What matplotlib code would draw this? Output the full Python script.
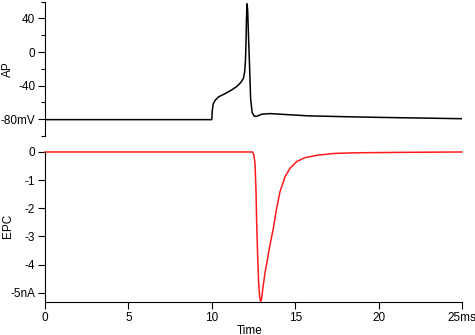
import matplotlib
matplotlib.use("Agg")
import matplotlib.pyplot as plt
from matplotlib.ticker import FixedLocator

plt.rcParams['font.family'] = ['Liberation Sans', 'DejaVu Sans']
plt.rcParams['font.size'] = 8.5

# action potential trace (ms, mV)
ap_t = [0.0, 10.0, 10.03, 10.08, 10.2, 10.4, 10.8, 11.2, 11.5, 11.75, 11.9, 11.97,
        12.02, 12.05, 12.08, 12.11, 12.15, 12.2, 12.27, 12.33, 12.42, 12.55, 12.7,
        13.0, 13.5, 14.5, 15.8, 18.0, 20.0, 22.5, 25.0]
ap_v = [-80.5, -80.5, -70.0, -62.0, -57.5, -53.5, -49.5, -45.0, -41.0, -36.0, -31.0, -24.0,
        -10.0, 10.0, 40.0, 57.5, 50.0, 20.0, -20.0, -56.0, -72.0, -76.5, -76.5,
        -74.0, -73.3, -74.5, -76.0, -77.0, -77.8, -78.6, -79.4]

# end-plate current trace (ms, nA)
epc_t = [0.0, 12.45, 12.52, 12.59, 12.65, 12.69, 12.75, 12.81, 12.87, 12.93, 12.99,
         13.05, 13.19, 13.35, 13.49, 13.69, 13.89, 14.09, 14.39, 14.69, 15.09, 15.59,
         16.39, 17.39, 18.5, 20.0, 22.0, 25.0]
epc_i = [0.0, 0.0, -0.1, -0.4, -1.35, -2.5, -3.7, -4.66, -5.15, -5.32, -5.2,
         -4.89, -4.30, -3.77, -3.30, -2.71, -2.0, -1.41, -0.88, -0.58, -0.34, -0.20,
         -0.11, -0.05, -0.03, -0.02, -0.01, 0.0]

x_ticks = [0, 5, 10, 15, 20, 25]
x_labels = ['0', '5', '10', '15', '20', '25ms']
ap_ticks = [-80, -40, 0, 40]
ap_labels = ['-80mV', '-40', '0', '40']
ap_minor = [-100, -60, -20, 20, 60]
epc_ticks = [-5, -4, -3, -2, -1, 0]
epc_labels = ['-5nA', '-4', '-3', '-2', '-1', '0']

fig = plt.figure(figsize=(4.75, 3.35), dpi=100)
ax1 = fig.add_axes([0.0947, 0.594, 0.8779, 0.401])
ax2 = fig.add_axes([0.0947, 0.0985, 0.8779, 0.4478])

for ax in (ax1, ax2):
    for s in ('top', 'right'):
        ax.spines[s].set_visible(False)
    ax.set_xlim(0, 25)
    ax.tick_params(direction='out', length=5, width=0.8, pad=2)
    ax.tick_params(which='minor', direction='out', length=3, width=0.8)

# top panel: AP
ax1.plot(ap_t, ap_v, color='black', lw=1.1)
ax1.set_ylim(-100, 60)
ax1.spines['bottom'].set_visible(False)
ax1.set_xticks([])
ax1.set_yticks(ap_ticks)
ax1.set_yticklabels(ap_labels)
ax1.yaxis.set_minor_locator(FixedLocator(ap_minor))
ax1.set_ylabel('AP')
ax1.yaxis.set_label_coords(-0.075, 0.5)

# bottom panel: EPC
ax2.plot(epc_t, epc_i, color='#ff1a1a', lw=1.1, clip_on=False)
ax2.set_ylim(-5.33, 0)
ax2.set_yticks(epc_ticks)
ax2.set_yticklabels(epc_labels)
ax2.set_xticks(x_ticks)
ax2.set_xticklabels(x_labels)
ax2.set_ylabel('EPC')
ax2.yaxis.set_label_coords(-0.075, 0.51)
ax2.set_xlabel('Time')
ax2.xaxis.set_label_coords(0.49, -0.15)

fig.savefig('out.png', dpi=100)
